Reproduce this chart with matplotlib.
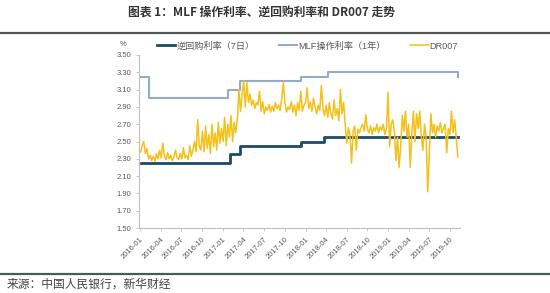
"""
MLF操作利率、逆回购利率和DR007走势
"""
import matplotlib
matplotlib.use('Agg')
import matplotlib.pyplot as plt
import matplotlib.dates as mdates
import numpy as np
import pandas as pd

plt.rcParams['font.family'] = ['Liberation Sans', 'Noto Sans CJK SC', 'DejaVu Sans']

# 逆回购利率（7日），阶梯
repo_dates = ['2016-01-04', '2017-02-03', '2017-03-16', '2017-12-14', '2018-03-22', '2019-11-05']
repo_vals = [2.25, 2.35, 2.45, 2.50, 2.55, 2.55]

# MLF操作利率（1年），阶梯
mlf_dates = ['2016-01-04', '2016-02-10', '2017-01-24', '2017-03-16', '2017-12-14',
             '2018-04-10', '2019-11-05']
mlf_vals = [3.25, 3.00, 3.10, 3.20, 3.25, 3.30, 3.25]

# DR007 周度读数
dr_2016 = [2.38, 2.45, 2.50, 2.36, 2.42, 2.30, 2.34, 2.28, 2.33, 2.27, 2.36, 2.30,
           2.40, 2.31, 2.48, 2.33, 2.29, 2.37, 2.30, 2.34, 2.28, 2.32, 2.40, 2.31,
           2.29, 2.36, 2.30, 2.43, 2.31, 2.34, 2.29, 2.45, 2.33, 2.40, 2.50, 2.38,
           2.75, 2.45, 2.40, 2.62, 2.38, 2.68, 2.42, 2.58, 2.36, 2.70, 2.44, 2.60,
           2.40, 2.72, 2.48, 2.65]
dr_2017 = [2.50, 2.78, 2.45, 2.70, 2.55, 2.80, 2.50, 2.72, 2.60, 2.75, 3.10, 2.85,
           3.05, 3.20, 2.90, 3.18, 2.95, 3.05, 2.92, 2.98, 2.88, 2.95, 2.92, 3.08,
           2.85, 2.96, 2.82, 2.90, 2.86, 2.93, 2.84, 2.91, 2.85, 2.95, 2.88, 2.92,
           2.86, 3.00, 3.18, 2.95, 2.84, 2.90, 2.87, 2.96, 2.84, 2.92, 2.80, 2.95,
           2.86, 3.08, 2.85, 2.92]
dr_2018 = [2.95, 3.12, 2.88, 2.96, 2.85, 3.00, 2.90, 2.82, 2.92, 2.86, 3.15, 2.88,
           2.80, 2.92, 2.78, 2.95, 2.82, 2.76, 2.98, 2.80, 2.88, 2.74, 3.10, 2.82,
           2.95, 2.70, 2.48, 2.66, 2.58, 2.25, 2.62, 2.68, 2.40, 2.64, 2.60, 2.66,
           2.70, 2.62, 2.81, 2.64, 2.60, 2.68, 2.58, 2.66, 2.62, 2.70, 2.60, 2.67,
           2.63, 2.70, 2.58, 2.65, 3.07]
dr_2019 = [2.44, 2.70, 2.75, 2.62, 2.28, 2.55, 2.20, 2.45, 2.80, 2.62, 2.85, 2.55,
           2.70, 2.20, 2.60, 2.85, 2.50, 2.82, 2.65, 2.85, 2.55, 2.40, 2.70, 2.55,
           1.92, 2.35, 2.82, 2.60, 2.70, 2.55, 2.68, 2.62, 2.72, 2.60, 2.65, 2.70,
           2.37, 2.65, 2.58, 2.85, 2.60, 2.75, 2.55, 2.32]
dr007 = dr_2016 + dr_2017 + dr_2018 + dr_2019

y_ticks = np.arange(1.5, 3.51, 0.2)

c_repo = '#1b4a6b'
c_mlf = '#93acc9'
c_dr = '#f5c019'
c_text = '#595959'


def draw():
    fig = plt.figure(figsize=(5.5, 2.93), dpi=100)
    ax = fig.add_axes([0.2527, 0.2218, 0.583, 0.5905])

    dr_dates = pd.date_range('2016-01-04', periods=len(dr007), freq='7D')
    ax.plot(pd.to_datetime(repo_dates), repo_vals, drawstyle='steps-post',
            color=c_repo, lw=2.0, label='逆回购利率（7日）')
    ax.plot(pd.to_datetime(mlf_dates), mlf_vals, drawstyle='steps-post',
            color=c_mlf, lw=1.5, label='MLF操作利率（1年）')
    ax.plot(dr_dates, dr007, color=c_dr, lw=1.1, label='DR007')

    ax.set_ylim(1.5, 3.5)
    ax.set_yticks(y_ticks)
    ax.yaxis.set_major_formatter(plt.FormatStrFormatter('%.2f'))
    ax.set_xlim(pd.Timestamp('2015-12-28'), pd.Timestamp('2019-11-12'))
    ax.xaxis.set_major_locator(mdates.MonthLocator(bymonth=[1, 4, 7, 10]))
    ax.xaxis.set_major_formatter(mdates.DateFormatter('%Y-%m'))
    plt.setp(ax.get_xticklabels(), rotation=45, ha='right', rotation_mode='anchor')

    for s in ['top', 'right']:
        ax.spines[s].set_visible(False)
    for s in ['left', 'bottom']:
        ax.spines[s].set_color('#bfbfbf')
        ax.spines[s].set_linewidth(0.8)
    ax.tick_params(axis='both', labelsize=5.5, colors=c_text, length=2.5,
                   width=0.6, pad=3)
    ax.tick_params(axis='both', color='#bfbfbf')

    ax.text(-0.04, 1.04, '%', transform=ax.transAxes, fontsize=5.5,
            color=c_text, ha='right', va='bottom')

    ax.legend(loc='center left', bbox_to_anchor=(0.056, 1.052), ncol=3, frameon=False,
              fontsize=6.6, handlelength=2.0, columnspacing=2.7, handletextpad=0.1,
              labelcolor=c_text, borderaxespad=0, borderpad=0)

    fig.text(0.475, 0.955, '图表 1：MLF 操作利率、逆回购利率和 DR007 走势',
             ha='center', va='center', fontsize=8.5, fontweight='bold',
             color='#333333', family=['Noto Sans CJK SC', 'DejaVu Sans'])
    fig.add_artist(plt.Line2D([0, 1], [1 - 33 / 293, 1 - 33 / 293],
                              transform=fig.transFigure, color='#555555', lw=1.6))
    fig.add_artist(plt.Line2D([0, 1], [1 - 274 / 293, 1 - 274 / 293],
                              transform=fig.transFigure, color='#4a5a5a', lw=1.6))
    fig.text(0.012, 1 - 284 / 293, '来源：中国人民银行，新华财经', ha='left',
             va='center', fontsize=8.5, color='#444444',
             family=['Noto Sans CJK SC', 'DejaVu Sans'])

    fig.savefig('out.png', dpi=100, facecolor='white')


draw()
